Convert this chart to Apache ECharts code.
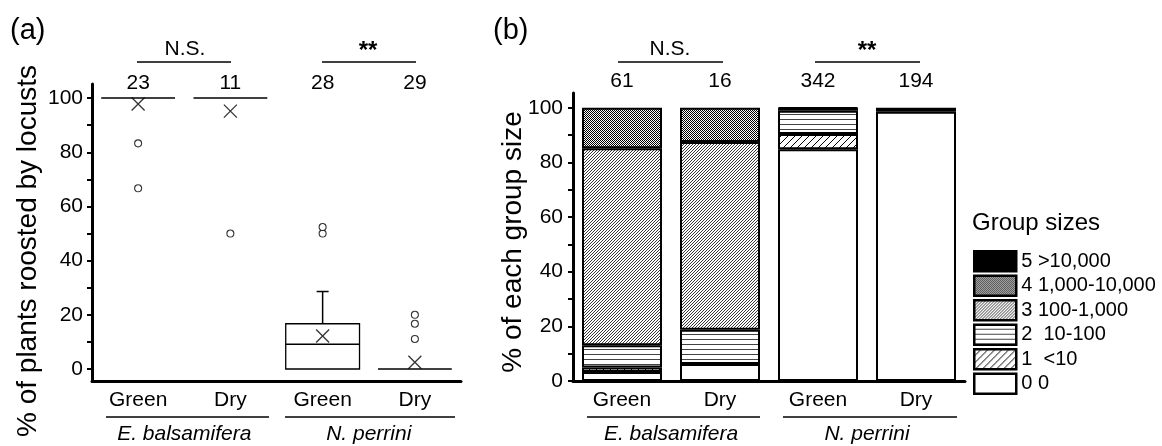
<!DOCTYPE html>
<html>
<head>
<meta charset="utf-8">
<script src="https://cdn.jsdelivr.net/npm/echarts@6/dist/echarts.min.js"></script>
<style>
  html, body { margin: 0; padding: 0; background: #fff; }
  #main { width: 1162px; height: 446px; }
</style>
</head>
<body>
<div id="main"></div>
<script>
// ---- panel (a) data ----
const catsA = ['Green', 'Dry', 'Green', 'Dry']
const speciesA = ['E. balsamifera', 'N. perrini']
const countsA = ['23', '11', '28', '29']
// box stats per group
const boxMin = [100, 100, 0, 0]
const boxQ1 = [100, 100, 0, 0]
const boxMed = [100, 100, 9.1, 0]
const boxQ3 = [100, 100, 16.7, 0]
const boxMax = [100, 100, 28.6, 0]
const meansA = [97.8, 95.2, 12.2, 2.5]
const outlierCat = [0, 0, 1, 2, 2, 3, 3, 3]
const outlierVal = [83.3, 66.7, 50, 50, 52.4, 20, 16.7, 11.1]

// ---- panel (b) data ----
const catsB = ['Green', 'Dry', 'Green', 'Dry']
const countsB = ['61', '16', '342', '194']
const sizeNames = ['0 0', '1  <10', '2  10-100', '3 100-1,000', '4 1,000-10,000', '5 >10,000']
const size0 = [3.3, 6.25, 84.8, 98.5]
const size1 = [1.6, 0, 5.6, 1.5]
const size2 = [8.2, 12.5, 8.5, 0]
const size3 = [72.1, 68.75, 0, 0]
const size4 = [14.8, 12.5, 0.9, 0]
const size5 = [0, 0, 0.3, 0]
const sizeData = [size0, size1, size2, size3, size4, size5]

const FONT = 'Liberation Sans, Arial, sans-serif'

// hatch fills
function diagPattern(step, lw, col) {
  const c = document.createElement('canvas')
  c.width = step; c.height = step
  const ctx = c.getContext('2d')
  ctx.fillStyle = '#fff'; ctx.fillRect(0, 0, step, step)
  ctx.strokeStyle = col || '#000'; ctx.lineWidth = lw
  ctx.beginPath()
  ctx.moveTo(0, step); ctx.lineTo(step, 0)
  ctx.moveTo(-1, 1); ctx.lineTo(1, -1)
  ctx.moveTo(step - 1, step + 1); ctx.lineTo(step + 1, step - 1)
  ctx.stroke()
  return { image: c, repeat: 'repeat' }
}
function horizPattern(step) {
  const c = document.createElement('canvas')
  c.width = step; c.height = step
  const ctx = c.getContext('2d')
  ctx.fillStyle = '#fff'; ctx.fillRect(0, 0, step, step)
  ctx.fillStyle = '#444'; ctx.fillRect(0, step - 1, step, 1)
  return { image: c, repeat: 'repeat' }
}
function checkPattern() {
  const c = document.createElement('canvas')
  c.width = 2; c.height = 2
  const ctx = c.getContext('2d')
  ctx.fillStyle = '#fff'; ctx.fillRect(0, 0, 2, 2)
  ctx.fillStyle = '#000'; ctx.fillRect(0, 0, 1, 1); ctx.fillRect(1, 1, 1, 1)
  return { image: c, repeat: 'repeat' }
}
const fills = ['#fff', diagPattern(7, 1), horizPattern(5), diagPattern(3, 0.9, '#222'), checkPattern(), '#000']

const chart = echarts.init(document.getElementById('main'), null, { renderer: 'canvas' })

const barSeries = sizeData.map((d, i) => ({
  name: sizeNames[i],
  type: 'bar',
  stack: 'g',
  xAxisIndex: 3,
  yAxisIndex: 1,
  barWidth: 80,
  data: d.map(v => (v === 0 ? '-' : v)),
  itemStyle: { color: fills[i], borderColor: '#000', borderWidth: 2 }
}))

const boxData = catsA.map((c, i) => [i, boxMin[i], boxQ1[i], boxMed[i], boxQ3[i], boxMax[i]])

const lineStyle = { stroke: '#000', lineWidth: 1.5 }

const option = {
  animation: false,
  textStyle: { fontFamily: FONT, color: '#000' },
  grid: [
    { left: 92, top: 84, width: 369, height: 297 },
    { left: 573, top: 93, width: 392, height: 288 }
  ],
  xAxis: [
    {
      gridIndex: 0, type: 'category', data: catsA, position: 'bottom',
      axisLine: { onZero: false, lineStyle: { color: '#000', width: 3 } },
      axisTick: { alignWithLabel: true, length: 6, lineStyle: { color: '#000', width: 2 } },
      axisLabel: { fontSize: 21, color: '#000', margin: 9, fontFamily: FONT }
    },
    {
      gridIndex: 0, type: 'category', data: speciesA, position: 'bottom', offset: 37,
      axisLine: { show: false }, axisTick: { show: false },
      axisLabel: { fontSize: 21, color: '#000', fontStyle: 'italic', margin: 6, fontFamily: FONT }
    },
    {
      gridIndex: 0, type: 'category', data: countsA, position: 'top', offset: -10,
      axisLine: { show: false }, axisTick: { show: false },
      axisLabel: { fontSize: 21, color: '#000', margin: 0, fontFamily: FONT }
    },
    {
      gridIndex: 1, type: 'category', data: catsB, position: 'bottom',
      axisLine: { onZero: false, lineStyle: { color: '#000', width: 3 } },
      axisTick: { alignWithLabel: true, length: 6, lineStyle: { color: '#000', width: 2 } },
      axisLabel: { fontSize: 21, color: '#000', margin: 9, fontFamily: FONT }
    },
    {
      gridIndex: 1, type: 'category', data: speciesA, position: 'bottom', offset: 37,
      axisLine: { show: false }, axisTick: { show: false },
      axisLabel: { fontSize: 21, color: '#000', fontStyle: 'italic', margin: 6, fontFamily: FONT }
    },
    {
      gridIndex: 1, type: 'category', data: countsB, position: 'top', offset: 1,
      axisLine: { show: false }, axisTick: { show: false },
      axisLabel: { fontSize: 21, color: '#000', margin: 0, fontFamily: FONT }
    }
  ],
  yAxis: [
    {
      gridIndex: 0, type: 'value', min: -4.43, max: 105.2,
      splitLine: { show: false },
      axisLine: { show: true, lineStyle: { color: '#000', width: 3 } },
      axisTick: { show: true, length: 5, customValues: [0, 10, 20, 30, 40, 50, 60, 70, 80, 90, 100], lineStyle: { color: '#000', width: 2 } },
      axisLabel: { fontSize: 21, color: '#000', margin: 9, customValues: [0, 20, 40, 60, 80, 100], fontFamily: FONT }
    },
    {
      gridIndex: 1, type: 'value', min: 0, max: 105.4,
      splitLine: { show: false },
      axisLine: { show: true, lineStyle: { color: '#000', width: 3 } },
      axisTick: { show: true, length: 5, customValues: [0, 10, 20, 30, 40, 50, 60, 70, 80, 90, 100], lineStyle: { color: '#000', width: 2 } },
      axisLabel: { fontSize: 21, color: '#000', margin: 10, customValues: [0, 20, 40, 60, 80, 100], fontFamily: FONT }
    }
  ],
  legend: {
    data: sizeNames.slice().reverse(),
    orient: 'vertical',
    left: 968, top: 245,
    icon: 'rect',
    itemWidth: 42, itemHeight: 20, itemGap: 2,
    itemStyle: { borderColor: '#000', borderWidth: 2.5 },
    textStyle: { fontSize: 20, color: '#000', fontFamily: FONT },
    selectedMode: false
  },
  graphic: [
    { type: 'text', left: 10, top: 16, style: { text: '(a)', fontSize: 29, fontFamily: FONT, fill: '#000' } },
    { type: 'text', left: 493, top: 16, style: { text: '(b)', fontSize: 29, fontFamily: FONT, fill: '#000' } },
    { type: 'text', x: 28, y: 251, rotation: Math.PI / 2, style: { text: '% of plants roosted by locusts', fontSize: 28, fontFamily: FONT, fill: '#000', align: 'center', verticalAlign: 'middle' } },
    { type: 'text', x: 513, y: 242, rotation: Math.PI / 2, style: { text: '% of each group size', fontSize: 28, fontFamily: FONT, fill: '#000', align: 'center', verticalAlign: 'middle' } },
    // significance brackets
    { type: 'text', x: 185, y: 49, style: { text: 'N.S.', fontSize: 21, fontFamily: FONT, fill: '#000', align: 'center', verticalAlign: 'middle' } },
    { type: 'line', shape: { x1: 137, y1: 62, x2: 231, y2: 62 }, style: { stroke: '#000', lineWidth: 1.5 } },
    { type: 'text', x: 368, y: 51, style: { text: '**', fontSize: 24, fontFamily: FONT, fontWeight: 'bold', fill: '#000', align: 'center', verticalAlign: 'middle' } },
    { type: 'line', shape: { x1: 322, y1: 62, x2: 416, y2: 62 }, style: { stroke: '#000', lineWidth: 1.5 } },
    { type: 'text', x: 670, y: 49, style: { text: 'N.S.', fontSize: 21, fontFamily: FONT, fill: '#000', align: 'center', verticalAlign: 'middle' } },
    { type: 'line', shape: { x1: 618, y1: 62, x2: 723, y2: 62 }, style: { stroke: '#000', lineWidth: 1.5 } },
    { type: 'text', x: 867, y: 51, style: { text: '**', fontSize: 24, fontFamily: FONT, fontWeight: 'bold', fill: '#000', align: 'center', verticalAlign: 'middle' } },
    { type: 'line', shape: { x1: 815, y1: 62, x2: 920, y2: 62 }, style: { stroke: '#000', lineWidth: 1.5 } },
    // species underlines
    { type: 'line', shape: { x1: 106, y1: 417, x2: 269, y2: 417 }, style: { stroke: '#000', lineWidth: 1.5 } },
    { type: 'line', shape: { x1: 285, y1: 417, x2: 455, y2: 417 }, style: { stroke: '#000', lineWidth: 1.5 } },
    { type: 'line', shape: { x1: 587, y1: 417, x2: 760, y2: 417 }, style: { stroke: '#000', lineWidth: 1.5 } },
    { type: 'line', shape: { x1: 783, y1: 417, x2: 957, y2: 417 }, style: { stroke: '#000', lineWidth: 1.5 } },
    { type: 'text', left: 972, top: 211, style: { text: 'Group sizes', fontSize: 24, fontFamily: FONT, fill: '#000' } }
  ],
  series: [
    {
      type: 'custom',
      xAxisIndex: 0, yAxisIndex: 0,
      data: boxData,
      encode: { x: 0, y: [1, 2, 3, 4, 5] },
      renderItem(params, api) {
        const x = api.value(0)
        const lo = api.coord([x, api.value(1)])
        const q1 = api.coord([x, api.value(2)])
        const md = api.coord([x, api.value(3)])
        const q3 = api.coord([x, api.value(4)])
        const hi = api.coord([x, api.value(5)])
        const w = api.size([1, 0])[0] * 0.8
        const cx = md[0]
        const cap = 6
        const kids = []
        if (q1[1] - q3[1] > 0.5) {
          kids.push({ type: 'rect', shape: { x: cx - w / 2, y: q3[1], width: w, height: q1[1] - q3[1] }, style: { fill: 'none', stroke: '#000', lineWidth: 1.3 } })
        }
        kids.push({ type: 'line', shape: { x1: cx - w / 2, y1: md[1], x2: cx + w / 2, y2: md[1] }, style: lineStyle })
        if (hi[1] < q3[1] - 0.5) {
          kids.push({ type: 'line', shape: { x1: cx, y1: q3[1], x2: cx, y2: hi[1] }, style: lineStyle })
          kids.push({ type: 'line', shape: { x1: cx - cap, y1: hi[1], x2: cx + cap, y2: hi[1] }, style: lineStyle })
        }
        if (lo[1] > q1[1] + 0.5) {
          kids.push({ type: 'line', shape: { x1: cx, y1: q1[1], x2: cx, y2: lo[1] }, style: lineStyle })
          kids.push({ type: 'line', shape: { x1: cx - cap, y1: lo[1], x2: cx + cap, y2: lo[1] }, style: lineStyle })
        }
        return { type: 'group', children: kids }
      }
    },
    {
      type: 'scatter',
      xAxisIndex: 0, yAxisIndex: 0,
      data: meansA.map((v, i) => [i, v]),
      symbol: 'path://M0,0L10,10M10,0L0,10',
      symbolSize: 13,
      itemStyle: { color: 'rgba(0,0,0,0)', borderColor: '#000', borderWidth: 1.3 },
      z: 5
    },
    {
      type: 'scatter',
      xAxisIndex: 0, yAxisIndex: 0,
      data: outlierVal.map((v, i) => [outlierCat[i], v]),
      symbol: 'circle',
      symbolSize: 7,
      itemStyle: { color: '#fff', borderColor: '#000', borderWidth: 1.1 },
      z: 5
    }
  ].concat(barSeries)
}

chart.setOption(option)
</script>
</body>
</html>
